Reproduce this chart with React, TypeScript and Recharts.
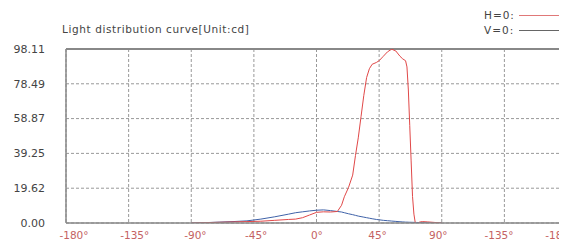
import React from 'react';
import {
  LineChart,
  Line,
  XAxis,
  YAxis,
  CartesianGrid,
  ReferenceLine
} from 'recharts';

const angles = [
  -90, -80, -70, -60, -50, -40, -30, -20, -15, -10, -5, 0, 5, 10, 15, 18, 20, 23, 26, 28, 30,
  32, 34, 36, 38, 40, 43, 45, 48, 51, 54, 57, 60, 62, 64, 65, 66, 67, 68, 69, 70, 71, 72, 74,
  76, 80, 85, 90
];

const hValues = [
  0, 0.2, 0.4, 0.6, 0.8, 1.0, 1.5, 2.0, 2.2, 3, 4.5, 6, 6.3, 6.2, 6.5, 10, 14.8, 20, 27, 38, 48,
  60, 72, 82, 87, 89.5, 90.5, 91.5, 94, 96.5, 98, 97, 94, 92.5, 91.5, 88, 75, 55, 35, 15, 5, 0,
  -1, 0.5, 0.8, 0.6, 0.3, 0
];

const vValues = [
  0, 0.2, 0.5, 0.8, 1.2, 2.2, 3.5, 5, 5.8, 6.3, 6.8, 7.2, 7.4, 7.0, 6.5, 6.2, 5.8, 5.2, 4.7, 4.3,
  3.9, 3.6, 3.3, 3.0, 2.7, 2.4, 2.0, 1.8, 1.5, 1.3, 1.1, 0.9, 0.7, 0.6, 0.5, 0.48, 0.45, 0.42,
  0.4, 0.38, 0.35, 0.32, 0.3, 0.25, 0.2, 0.12, 0.05, 0
];

const xTicks = [-180, -135, -90, -45, 0, 45, 90, 135, 180];
const xTickLabels = ['-180°', '-135°', '-90°', '-45°', '0°', '45°', '90°', '-135°', '-180°'];
const yTicks = [0, 19.62, 39.25, 58.87, 78.49, 98.11];

const data = angles.map((a, i) => ({ angle: a, h: hValues[i], v: vValues[i] }));

const font = '"DejaVu Sans", sans-serif';

// labels in the original sit on a slightly narrower spacing than the grid
const AngleTick = (props: any) => {
  const { x, y, payload } = props;
  const i = xTicks.indexOf(payload.value);
  const dx = 8 - i * 1.91;
  return (
    <text
      x={x + dx}
      y={y}
      dy={9}
      textAnchor="middle"
      fill="#c46262"
      fontSize={10.5}
      fontFamily={font}
    >
      {xTickLabels[i]}
    </text>
  );
};

export default function App() {
  return (
    <div style={{ position: 'relative', width: 559, height: 234, overflow: 'hidden', fontFamily: font }}>
      <div style={{ position: 'absolute', left: 54, top: 15, fontSize: 10.5, letterSpacing: 0.6, color: '#444', whiteSpace: 'nowrap' }}>
        Light distribution curve[Unit:cd]
      </div>
      <div style={{ position: 'absolute', left: 476, top: 1, fontSize: 10.5, letterSpacing: 1, color: '#444' }}>H=0:</div>
      <div style={{ position: 'absolute', left: 511, top: 7, width: 46, borderTop: '1px solid #e07878' }} />
      <div style={{ position: 'absolute', left: 476, top: 16, fontSize: 10.5, letterSpacing: 1, color: '#444' }}>V=0:</div>
      <div style={{ position: 'absolute', left: 511, top: 22, width: 46, borderTop: '1px solid #666' }} />
      <LineChart
        width={600}
        height={234}
        data={data}
        margin={{ top: 41, right: 41, left: 0, bottom: 0 }}
      >
        <CartesianGrid stroke="#999" strokeDasharray="3 2" />
        <XAxis
          type="number"
          dataKey="angle"
          domain={[-180, 180]}
          ticks={xTicks}
          height={19}
          tickSize={0}
          tickMargin={7}
          axisLine={{ stroke: '#888', strokeWidth: 1.5 }}
          tick={<AngleTick />}
          interval={0}
        />
        <YAxis
          type="number"
          domain={[0, 98.11]}
          ticks={yTicks}
          allowDataOverflow
          tickFormatter={(v: number) => v.toFixed(2)}
          width={58}
          tickSize={0}
          tickMargin={21}
          axisLine={{ stroke: '#888', strokeWidth: 1.5 }}
          tick={{ fill: '#444', fontSize: 11, fontFamily: font }}
          interval={0}
        />
        <ReferenceLine y={98.11} stroke="#888" strokeWidth={2} />
        <Line
          type="linear"
          dataKey="v"
          stroke="#3f62a8"
          strokeWidth={1}
          dot={false}
          isAnimationActive={false}
        />
        <Line
          type="linear"
          dataKey="h"
          stroke="#e04848"
          strokeWidth={1}
          dot={false}
          isAnimationActive={false}
        />
      </LineChart>
    </div>
  );
}
